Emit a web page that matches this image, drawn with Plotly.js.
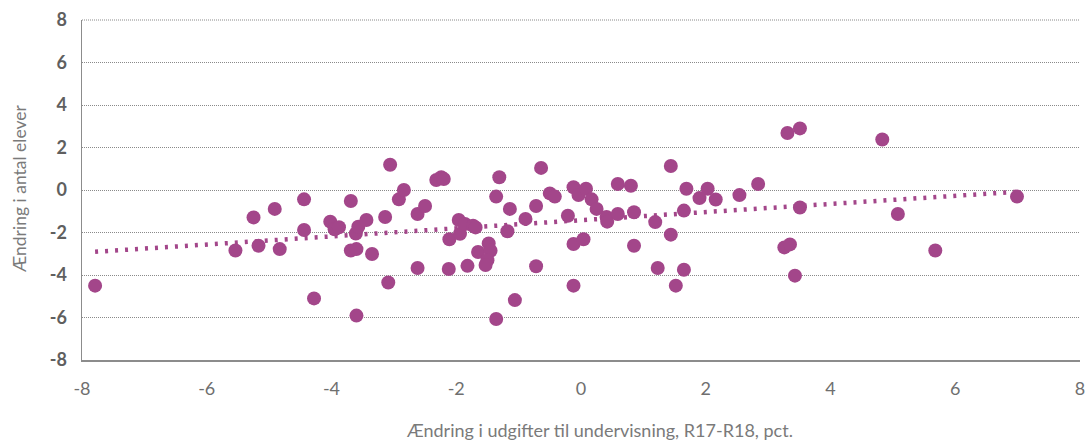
<!DOCTYPE html>
<html>
<head>
<meta charset="utf-8">
<script src="https://cdn.plot.ly/plotly-3.0.1.min.js"></script>
<style>html,body{margin:0;padding:0;background:#fff;}#chart{width:1086px;height:441px;}</style>
</head>
<body>
<div id="chart"></div>
<script>
// Change in teaching expenditure (pct), R17-R18
const udgifter = [
  -7.79,-5.54,-5.25,-5.17,-4.91,-4.83,-4.44,-4.44,-4.28,-4.02,
  -3.95,-3.88,-3.69,-3.61,-3.57,-3.69,-3.60,-3.44,-3.35,-3.60,
  -3.14,-3.09,-3.06,-2.92,-2.84,-2.62,-2.50,-2.62,-2.32,-2.24,
  -2.20,-2.11,-2.12,-1.96,-1.94,-1.86,-1.73,-1.69,-1.82,-1.65,
  -1.48,-1.45,-1.50,-1.53,-1.36,-1.31,-1.36,-1.18,-1.14,-1.06,
  -0.89,-0.72,-0.72,-0.64,-0.50,-0.42,-0.21,-0.12,-0.04,0.08,
  -0.12,0.04,-0.12,0.17,0.25,0.41,0.42,0.59,0.59,0.80,
  0.85,0.85,1.19,1.23,1.44,1.44,1.52,1.65,1.65,1.69,
  1.90,2.03,2.16,2.54,2.84,3.31,3.51,3.26,3.35,3.43,
  3.51,4.83,5.08,5.68,6.99
];
// Change in number of pupils
const elever = [
  -4.50,-2.85,-1.29,-2.62,-0.89,-2.78,-0.44,-1.88,-5.10,-1.49,
  -1.85,-1.75,-0.52,-2.05,-1.73,-2.85,-2.78,-1.41,-3.01,-5.91,
  -1.27,-4.35,1.19,-0.44,0.00,-1.13,-0.75,-3.67,0.47,0.60,
  0.52,-2.32,-3.72,-1.41,-2.06,-1.60,-1.68,-1.76,-3.57,-2.92,
  -2.52,-2.86,-3.30,-3.53,-0.31,0.60,-6.07,-1.94,-0.89,-5.18,
  -1.36,-0.75,-3.59,1.04,-0.16,-0.31,-1.21,0.13,-0.24,0.06,
  -2.54,-2.32,-4.50,-0.44,-0.89,-1.27,-1.49,0.28,-1.13,0.20,
  -1.05,-2.62,-1.51,-3.67,1.13,-2.10,-4.50,-0.97,-3.75,0.06,
  -0.38,0.06,-0.45,-0.24,0.28,2.68,2.90,-2.70,-2.56,-4.03,
  -0.82,2.38,-1.13,-2.85,-0.31
];
const yTicks = [-8,-6,-4,-2,0,2,4,6,8];
const xTicks = [-8,-6,-4,-2,0,2,4,6,8];

// Linear trendline (least squares) computed from the data
const n = udgifter.length;
const mx = udgifter.reduce((a,b)=>a+b,0)/n;
const my = elever.reduce((a,b)=>a+b,0)/n;
let sxy=0, sxx=0;
for (let i=0;i<n;i++){ sxy += (udgifter[i]-mx)*(elever[i]-my); sxx += (udgifter[i]-mx)**2; }
const slope = sxy/sxx, icpt = my - slope*mx;
const xmin = Math.min(...udgifter), xmax = Math.max(...udgifter);
const trendX = [xmin, xmax];
const trendY = trendX.map(x => icpt + slope*x);

const purple = '#a3468a';
const traces = [
  {x: trendX, y: trendY, type:'scatter', mode:'lines',
   line:{color: purple, width:4.5, dash:'3px,7px'}, hoverinfo:'skip'},
  {x: udgifter, y: elever, type:'scatter', mode:'markers',
   marker:{color: purple, size:14, line:{width:0}}}
];

const layout = {
  width:1086, height:441,
  margin:{l:82, r:6, t:20, b:81},
  paper_bgcolor:'#ffffff', plot_bgcolor:'#ffffff',
  showlegend:false,
  xaxis:{range:[-8,8], tickvals:xTicks, ticktext:xTicks.map(String),
    showgrid:false, zeroline:false, showline:true, linecolor:'#8c8c8c', linewidth:1.5,
    ticks:'', ticklabelstandoff:12,
    tickfont:{family:'Lato, "Open Sans", sans-serif', size:18, color:'#6f6f6f'}},
  yaxis:{range:[-8,8], tickvals:yTicks, ticktext:yTicks.map(v=>'<b>'+v+'</b>'),
    showgrid:true, gridcolor:'#8a8a8a', gridwidth:1, griddash:'1px,1px',
    zeroline:false, showline:true, linecolor:'#8c8c8c', linewidth:1.5,
    ticks:'', ticklabelstandoff:10,
    tickfont:{family:'Lato, "Open Sans", sans-serif', size:18, color:'#5f5f5f'}},
  shapes:[
    {type:'line', xref:'paper', x0:0, x1:1, yref:'paper', y0:1, y1:1, layer:'below',
     line:{color:'#8a8a8a', width:1, dash:'1px,1px'}}
  ],
  annotations:[
    {text:'Ændring i udgifter til undervisning, R17-R18, pct.', xref:'paper', yref:'paper',
     x:0.519, y:-0.206, xanchor:'center', yanchor:'middle', showarrow:false,
     font:{family:'Lato, "Open Sans", sans-serif', size:18, color:'#7a7a7a'}},
    {text:'Ændring i antal elever', xref:'paper', yref:'paper', textangle:-90,
     x:-0.0621, y:0.503, xanchor:'center', yanchor:'middle', showarrow:false,
     font:{family:'Lato, "Open Sans", sans-serif', size:17.5, color:'#7a7a7a'}}
  ]
};
Plotly.newPlot('chart', traces, layout, {displayModeBar:false, staticPlot:true});
</script>
</body>
</html>
